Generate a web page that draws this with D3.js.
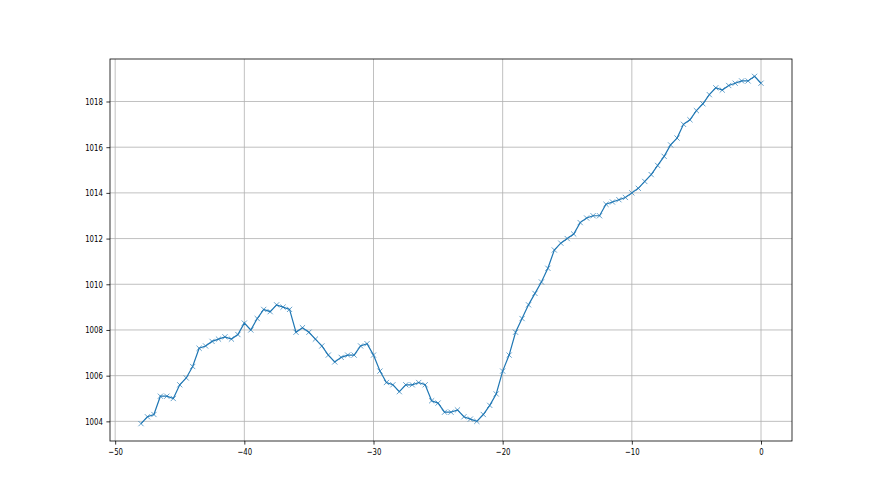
<!DOCTYPE html>
<html lang="en">
<head>
  <meta charset="UTF-8">
  <style>
    body {
      margin: 0;
      overflow: hidden;
      background: #fff;
    }

    svg {
      display: block;
    }

    .grid line {
      stroke: #b0b0b0;
      stroke-width: 0.8;
    }

    .tick text {
      font-family: "DejaVu Sans", sans-serif;
      font-size: 9.4px;
      fill: #000;
    }

    .pressure {
      fill: none;
      stroke: #1f77b4;
      stroke-width: 1.2;
    }

    .marker {
      stroke: #1f77b4;
      stroke-width: 0.8;
      stroke-opacity: 0.85;
    }
  </style>
  <script src="https://d3js.org/d3.v7.min.js"></script>
</head>
<body>

<svg id="chart"></svg>

<script>
  // hours before now, every half hour
  const hours = d3.range(-48, 0.01, 0.5);

  const pressure = [
    1003.9, 1004.2, 1004.3, 1005.1, 1005.1, 1005.0, 1005.6, 1005.9, 1006.4, 1007.2,
    1007.3, 1007.5, 1007.6, 1007.7, 1007.6, 1007.8, 1008.3, 1008.0, 1008.5, 1008.9,
    1008.8, 1009.1, 1009.0, 1008.9, 1007.9, 1008.1, 1007.9, 1007.6, 1007.3, 1006.9,
    1006.6, 1006.8, 1006.9, 1006.9, 1007.3, 1007.4, 1006.9, 1006.2, 1005.7, 1005.6,
    1005.3, 1005.6, 1005.6, 1005.7, 1005.6, 1004.9, 1004.8, 1004.4, 1004.4, 1004.5,
    1004.2, 1004.1, 1004.0, 1004.3, 1004.7, 1005.2, 1006.2, 1006.9, 1007.9, 1008.5,
    1009.1, 1009.6, 1010.1, 1010.7, 1011.5, 1011.8, 1012.0, 1012.2, 1012.7, 1012.9,
    1013.0, 1013.0, 1013.5, 1013.6, 1013.7, 1013.8, 1014.0, 1014.2, 1014.5, 1014.8,
    1015.2, 1015.6, 1016.1, 1016.4, 1017.0, 1017.2, 1017.6, 1017.9, 1018.3, 1018.6,
    1018.5, 1018.7, 1018.8, 1018.9, 1018.9, 1019.1, 1018.8
  ];

  const xTicks = [-50, -40, -30, -20, -10, 0];
  const yTicks = [1004, 1006, 1008, 1010, 1012, 1014, 1016, 1018];

  const width = 880, height = 495;
  const margin = { left: 110, right: 88, top: 59, bottom: 54 };

  const svg = d3.select("#chart")
    .attr("width", width)
    .attr("height", height);

  const data = hours.map((h, i) => ({ h: h, p: pressure[i] }));

  // matplotlib style 5% padding
  const xExt = d3.extent(hours), yExt = d3.extent(pressure);
  const xPad = (xExt[1] - xExt[0]) * 0.05, yPad = (yExt[1] - yExt[0]) * 0.05;

  const x = d3.scaleLinear()
    .domain([xExt[0] - xPad, xExt[1] + xPad])
    .range([margin.left, width - margin.right]);

  const y = d3.scaleLinear()
    .domain([yExt[0] - yPad, yExt[1] + yPad])
    .range([height - margin.bottom, margin.top]);

  // grid
  const grid = svg.append("g").attr("class", "grid");
  grid.selectAll(".gx").data(xTicks).enter().append("line")
    .attr("x1", d => x(d)).attr("x2", d => x(d))
    .attr("y1", margin.top).attr("y2", height - margin.bottom);
  grid.selectAll(".gy").data(yTicks).enter().append("line")
    .attr("y1", d => y(d)).attr("y2", d => y(d))
    .attr("x1", margin.left).attr("x2", width - margin.right);

  // line + x markers
  svg.append("path")
    .datum(data)
    .attr("class", "pressure")
    .attr("d", d3.line().x(d => x(d.h)).y(d => y(d.p)));

  const m = 2.6;
  svg.append("g").selectAll("path").data(data).enter().append("path")
    .attr("class", "marker")
    .attr("d", d => {
      const cx = x(d.h), cy = y(d.p);
      return `M${cx - m},${cy - m}L${cx + m},${cy + m}M${cx - m},${cy + m}L${cx + m},${cy - m}`;
    });

  // axes
  const fmtX = d => d < 0 ? "\u2212" + Math.abs(d) : String(d);

  const xAxis = svg.append("g")
    .attr("transform", `translate(0,${height - margin.bottom})`)
    .call(d3.axisBottom(x).tickValues(xTicks).tickFormat(fmtX).tickSizeOuter(0).tickSize(3.6).tickPadding(3.6));

  const yAxis = svg.append("g")
    .attr("transform", `translate(${margin.left},0)`)
    .call(d3.axisLeft(y).tickValues(yTicks).tickFormat(d3.format("d")).tickSizeOuter(0).tickSize(3.6).tickPadding(3.6));

  [xAxis, yAxis].forEach(g => {
    g.select(".domain").remove();
    g.selectAll(".tick line").attr("stroke", "#000").attr("stroke-width", 0.8);
    // the reference text is horizontally squeezed
    g.selectAll(".tick text").each(function () {
      const w = this.getComputedTextLength();
      d3.select(this).attr("textLength", w * 0.74).attr("lengthAdjust", "spacingAndGlyphs");
    });
  });

  // frame
  svg.append("rect")
    .attr("x", margin.left).attr("y", margin.top)
    .attr("width", width - margin.left - margin.right)
    .attr("height", height - margin.top - margin.bottom)
    .attr("fill", "none")
    .attr("stroke", "#000")
    .attr("stroke-width", 0.8);
</script>

</body>
</html>
